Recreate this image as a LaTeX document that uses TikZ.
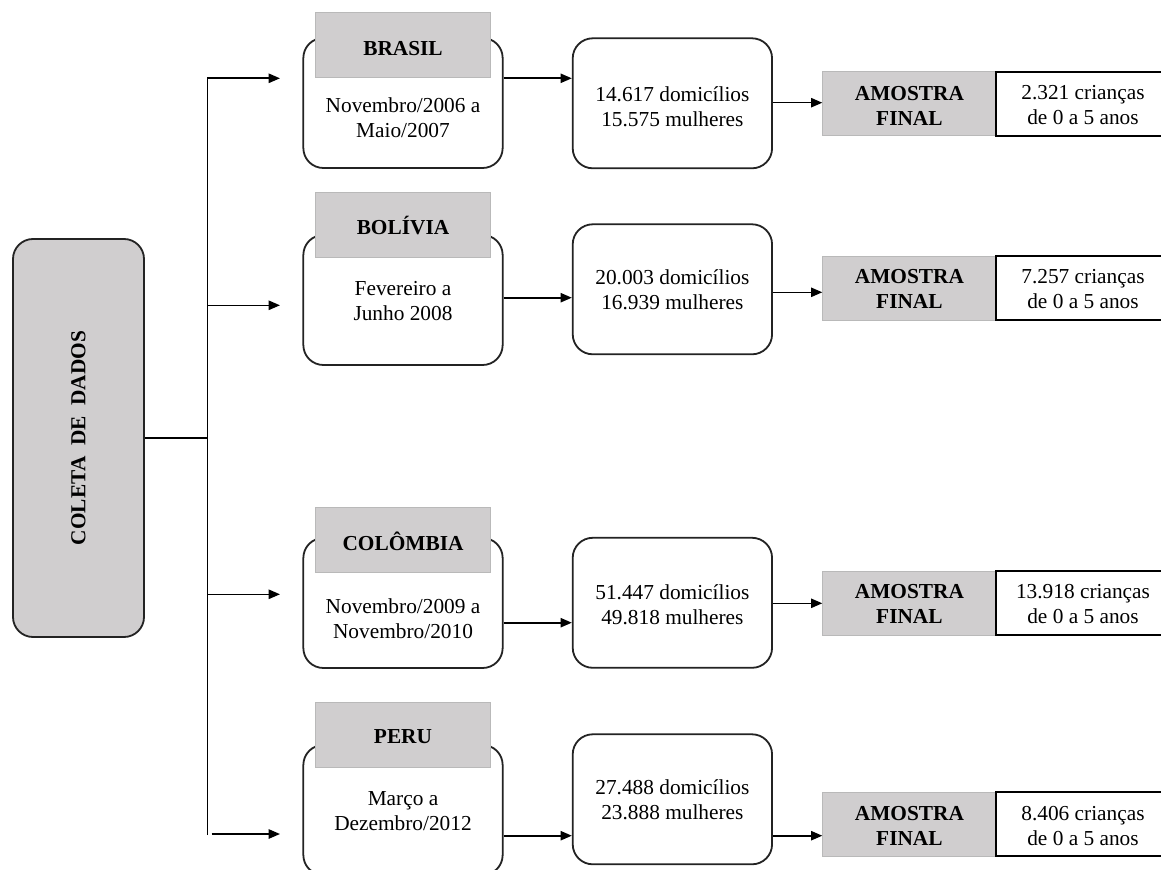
\documentclass[tikz,border=0pt]{standalone}
\usepackage{fontspec}
\setmainfont{Liberation Serif}
\usetikzlibrary{arrows.meta}
\definecolor{boxgray}{RGB}{208,206,207}
\definecolor{labelline}{RGB}{185,185,185}
\definecolor{boxline}{RGB}{35,35,35}
\tikzset{
  txt/.style={font=\fontsize{16}{18.75}\selectfont, align=center, inner sep=0pt, text=black},
  btxt/.style={txt, font=\fontsize{16}{18.75}\selectfont\bfseries},
  datebox/.style={draw=boxline, line width=1.35pt, fill=white, rounded corners=15pt,
    minimum width=149.5pt, minimum height=97.5pt, inner sep=0pt},
  countbox/.style={datebox},
  labelbox/.style={draw=labelline, line width=0.6pt, fill=boxgray,
    minimum width=131.5pt, minimum height=48.75pt, inner sep=0pt},
  amobox/.style={draw=labelline, line width=0.6pt, fill=boxgray,
    minimum width=130pt, minimum height=48pt, inner sep=0pt},
  whitebox/.style={draw=black, line width=1.35pt, fill=white,
    minimum width=130.5pt, minimum height=48pt, inner sep=0pt},
  coletabox/.style={draw=boxline, line width=1.35pt, fill=boxgray, rounded corners=15pt,
    minimum width=98.25pt, minimum height=298.5pt, inner sep=0pt},
  arr/.style={draw=black, line width=1.2pt, -{Triangle[length=8.5pt,width=7pt]}},
  ln/.style={draw=black, line width=1.2pt}
}
\begin{document}
\begin{tikzpicture}[x=0.75pt,y=-0.75pt]
\path[use as bounding box, clip] (0,0) rectangle (1161,870);
\fill[white] (0,0) rectangle (1161,870);

% left box
\node[coletabox] (col) at (78.5,438) {};
\node[btxt, rotate=90] (colt) at (78.5,438) {COLETA\ \ DE\ \ DADOS};

% trunk
\coordinate (tt) at (207.3,78.3);
\coordinate (tb) at (207.3,835);
\coordinate (e1) at (280,78.3);
\coordinate (e2) at (280,305.3);
\coordinate (e3) at (280,594.3);
\coordinate (e4) at (280,834);
\coordinate (s4) at (211.7,834);
\draw[ln] (col.east) -- (col.east -| tt);
\draw[arr] (tb) -- (tt) -- (e1);
\draw[arr] (tt |- e2) -- (e2);
\draw[arr] (tt |- e3) -- (e3);
\draw[arr] (s4) -- (e4);

% arrow heights
\coordinate (a1) at (0,78.3);   \coordinate (b1) at (0,102.7);
\coordinate (a2) at (0,297.7);  \coordinate (b2) at (0,292.3);
\coordinate (a3) at (0,622.7);  \coordinate (b3) at (0,603.3);
\coordinate (a4) at (0,835.7);  \coordinate (b4) at (0,835.7);

% ---------- Row 1: BRASIL
\node[datebox] (d1) at (403,103) {};
\node[labelbox] (l1) at (403,45) {};
\node[btxt] (l1t) at (403,48.3) {BRASIL};
\node[txt] (d1t) at (403,117.5) {Novembro/2006 a\\Maio/2007};
\node[countbox] (c1) at (672.4,103.3) {};
\node[txt] (c1t) at (672.4,106.3) {14.617 domicílios\\15.575 mulheres};
\node[amobox] (m1) at (909.4,103.7) {};
\node[btxt] (m1t) at (909.4,106) {AMOSTRA\\FINAL};
\node[whitebox] (w1) at (1083,103.7) {};
\node[txt] (w1t) at (1083,105.5) {2.321 crianças\\de 0 a 5 anos};
\draw[arr] (d1.east |- a1) -- (c1.west |- a1);
\draw[arr] (c1.east |- b1) -- (m1.west |- b1);

% ---------- Row 2: BOLIVIA
\node[datebox] (d2) at (403,300) {};
\node[labelbox] (l2) at (403,224.8) {};
\node[btxt] (l2t) at (403,226) {BOLÍVIA};
\node[txt] (d2t) at (403,300.8) {Fevereiro a\\Junho 2008};
\node[countbox] (c2) at (672.4,289.3) {};
\node[txt] (c2t) at (672.4,289.7) {20.003 domicílios\\16.939 mulheres};
\node[amobox] (m2) at (909.4,288.3) {};
\node[btxt] (m2t) at (909.4,289.3) {AMOSTRA\\FINAL};
\node[whitebox] (w2) at (1083,288.3) {};
\node[txt] (w2t) at (1083,289.3) {7.257 crianças\\de 0 a 5 anos};
\draw[arr] (d2.east |- a2) -- (c2.west |- a2);
\draw[arr] (c2.east |- b2) -- (m2.west |- b2);

% ---------- Row 3: COLOMBIA
\node[datebox] (d3) at (403,603) {};
\node[labelbox] (l3) at (403,539.8) {};
\node[btxt] (l3t) at (403,541.7) {COLÔMBIA};
\node[txt] (d3t) at (403,618.5) {Novembro/2009 a\\Novembro/2010};
\node[countbox] (c3) at (672.4,602.8) {};
\node[txt] (c3t) at (672.4,605) {51.447 domicílios\\49.818 mulheres};
\node[amobox] (m3) at (909.4,603) {};
\node[btxt] (m3t) at (909.4,604.3) {AMOSTRA\\FINAL};
\node[whitebox] (w3) at (1083,603) {};
\node[txt] (w3t) at (1083,604.3) {13.918 crianças\\de 0 a 5 anos};
\draw[arr] (d3.east |- a3) -- (c3.west |- a3);
\draw[arr] (c3.east |- b3) -- (m3.west |- b3);

% ---------- Row 4: PERU
\node[datebox] (d4) at (403,810) {};
\node[labelbox] (l4) at (403,734.8) {};
\node[btxt] (l4t) at (403,736.7) {PERU};
\node[txt] (d4t) at (403,811.2) {Março a\\Dezembro/2012};
\node[countbox] (c4) at (672.4,799.3) {};
\node[txt] (c4t) at (672.4,800.2) {27.488 domicílios\\23.888 mulheres};
\node[amobox] (m4) at (909.4,824) {};
\node[btxt] (m4t) at (909.4,826.3) {AMOSTRA\\FINAL};
\node[whitebox] (w4) at (1083,824) {};
\node[txt] (w4t) at (1083,826.3) {8.406 crianças\\de 0 a 5 anos};
\draw[arr] (d4.east |- a4) -- (c4.west |- a4);
\draw[arr] (c4.east |- b4) -- (m4.west |- b4);
\end{tikzpicture}
\end{document}
